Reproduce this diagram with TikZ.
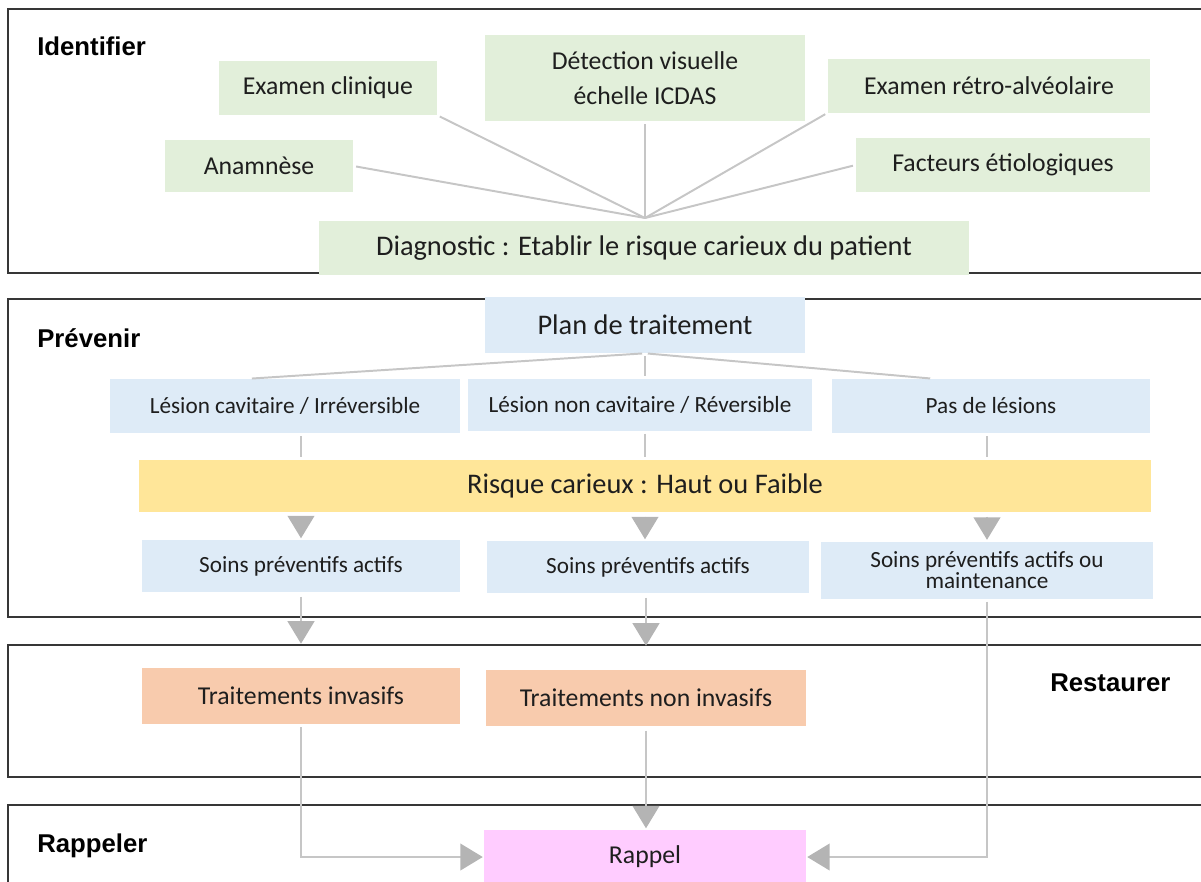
\documentclass[tikz,border=0pt]{standalone}
\usepackage{fontspec}
\setmainfont{Carlito}
\newfontfamily\headfont{Liberation Sans}
\usetikzlibrary{arrows.meta}

\definecolor{vertpale}{HTML}{E2EFDA}
\definecolor{bleupale}{HTML}{DEEBF7}
\definecolor{jaunepale}{HTML}{FFE699}
\definecolor{saumon}{HTML}{F8CBAD}
\definecolor{rosepale}{HTML}{FFCCFF}
\definecolor{grislien}{HTML}{C6C6C6}
\definecolor{grisfleche}{HTML}{B4B4B4}
\definecolor{griscadre}{HTML}{363636}
\definecolor{encre}{HTML}{1E1E1E}

\begin{document}
\begin{tikzpicture}[x=0.025cm,y=-0.025cm,
	boite/.style={inner sep=0pt,text=encre,align=center},
	grand/.style={font=\fontsize{20.2}{24}\selectfont},
	moyen/.style={font=\fontsize{18.3}{25}\selectfont},
	petit/.style={font=\fontsize{16.5}{15.2}\selectfont},
	titre/.style={font=\headfont\bfseries\fontsize{18.3}{22}\selectfont,anchor=base west,inner sep=0pt,text=black},
	cadre/.style={draw=griscadre,line width=1.8pt},
	lien/.style={draw=grislien,line width=1.4pt},
	fleche/.style={lien,-{Triangle[width=19pt,length=16pt,color=grisfleche]}}]
	
	\useasboundingbox (0,0) rectangle (1201,881);
	\clip (0,0) rectangle (1201,881);
	
	% cadres des quatre etapes
	\draw[cadre] (8,9) rectangle (1220,273);
	\draw[cadre] (8,299) rectangle (1220,617);
	\draw[cadre] (8,645) rectangle (1220,777);
	\draw[cadre] (8,805) rectangle (1220,900);
	
	\node[titre] (identifier) at (37,55) {Identifier};
	\node[titre] (prevenir) at (37,347) {Prévenir};
	\node[titre] (restaurer) at (1050,691) {Restaurer};
	\node[titre] (rappeler) at (37,852) {Rappeler};
	
	% Identifier
	\begin{scope}[every node/.style={boite,moyen,fill=vertpale}]
		\node[minimum width=5.45cm,minimum height=1.35cm] (examen) at (328,88) {Examen clinique};
		\node[minimum width=8cm,minimum height=2.15cm] (detection) at (645,78) {Détection visuelle\\échelle ICDAS};
		\node[minimum width=8.05cm,minimum height=1.325cm] (retro) at (989,86) {Examen rétro-alvéolaire};
		\node[minimum width=4.7cm,minimum height=1.275cm] (anamnese) at (259,166) {Anamnèse};
		\node[minimum width=7.35cm,minimum height=1.325cm] (facteurs) at (1003,165) {Facteurs étiologiques};
		\node[grand,minimum width=16.25cm,minimum height=1.35cm] (diagnostic) at (644,248) {Diagnostic : Etablir le risque carieux du patient};
	\end{scope}
	\coordinate (centre) at (645,218);
	
	\begin{scope}[every edge/.style={lien,shorten <=2pt}]
		\path (examen.south east) edge (centre);
		\path (anamnese.east) edge (centre);
		\path (detection.south) edge (centre);
		\path (retro.south west) edge (centre);
		\path (facteurs.west) edge (centre);
	\end{scope}
	
	% Prevenir
	\begin{scope}[every node/.style={boite,petit,fill=bleupale}]
		\node[grand,minimum width=8cm,minimum height=1.4cm] (plan) at (645,325) {Plan de traitement};
		\node[minimum width=8.725cm,minimum height=1.35cm] (lesion1) at (285,406) {Lésion cavitaire / Irréversible};
		\node[minimum width=8.6cm,minimum height=1.275cm] (lesion2) at (640,405) {Lésion non cavitaire / Réversible};
		\node[minimum width=7.925cm,minimum height=1.35cm] (lesion3) at (991,406) {Pas de lésions};
		\node[grand,fill=jaunepale,minimum width=25.275cm,minimum height=1.3cm] (risque) at (645,486) {Risque carieux : Haut ou Faible};
		\node[minimum width=7.925cm,minimum height=1.3cm] (soin1) at (301,566) {Soins préventifs actifs};
		\node[minimum width=8.05cm,minimum height=1.3cm] (soin2) at (648,567) {Soins préventifs actifs};
		\node[minimum width=8.3cm,minimum height=1.425cm] (soin3) at (987,570) {Soins préventifs actifs ou\\maintenance};
	\end{scope}
	
	% Restaurer et Rappeler
	\begin{scope}[every node/.style={boite,moyen,fill=saumon}]
		\node[minimum width=7.925cm,minimum height=1.4cm] (invasif) at (301,696) {Traitements invasifs};
		\node[minimum width=7.975cm,minimum height=1.4cm] (noninvasif) at (646,698) {Traitements non invasifs};
		\node[fill=rosepale,minimum width=8.025cm,minimum height=1.35cm] (rappel) at (645,857) {Rappel};
	\end{scope}
	
	\begin{scope}[every edge/.style={lien,shorten <=2pt,shorten >=2pt}]
		\path (plan.south) edge ([xshift=-0.9cm]lesion1.north);
		\path (plan.south) edge (plan.south |- lesion2.north);
		\path (plan.south) edge ([xshift=-1.45cm]lesion3.north);
		\path (lesion1.south -| soin1.north) edge (risque.north -| soin1.north);
		\path (lesion2.south -| plan.south) edge (risque.north -| plan.south);
		\path (lesion3.south -| soin3.north) edge (risque.north -| soin3.north);
	\end{scope}
	
	\begin{scope}[every edge/.style={fleche,shorten <=3pt,shorten >=1pt}]
		\path (risque.south -| soin1.north) edge (soin1.north);
		\path (risque.south -| plan.south) edge (plan.south |- soin2.north);
		\path (risque.south -| soin3.north) edge (soin3.north);
		\path (soin1.south) edge[shorten >=0.6cm] (soin1.south |- invasif.north);
		\path (soin2.south -| noninvasif.north) edge[shorten >=0.6cm] (noninvasif.north);
		\path (noninvasif.south) edge (noninvasif.south |- rappel.north);
	\end{scope}
	
	\draw[fleche,shorten <=2pt,shorten >=1pt] (invasif.south) |- (rappel.west);
	\draw[fleche,shorten <=2pt,shorten >=1pt] (soin3.south) |- (rappel.east);
\end{tikzpicture}
\end{document}
